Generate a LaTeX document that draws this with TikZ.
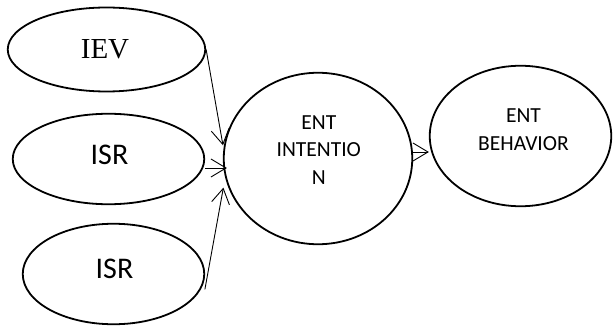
\documentclass[tikz,border=0pt]{standalone}
\usepackage{fontspec}
\setmainfont{Carlito}
\newfontfamily\timesfont{Liberation Serif}
\usetikzlibrary{shapes.geometric,arrows.meta}

\begin{document}
\begin{tikzpicture}[x=1pt,y=-1pt,
  bubble/.style={ellipse, draw, line width=1.8pt, inner sep=0pt},
  link/.style={line width=0.9pt, -{Straight Barb[length=15pt,width=18pt,line width=0.9pt]}},
  bigtext/.style={font=\fontsize{30}{36}\selectfont},
  smalltext/.style={font=\fontsize{21.5}{27.3}\selectfont, align=center}]
\useasboundingbox (0,0) rectangle (613,326);

% input constructs
\node[bubble, minimum width=197.5pt, minimum height=84pt,
      label={[font=\timesfont\fontsize{29}{34}\selectfont, xshift=-1.5pt]center:IEV}]
      (iev) at (106.5,49.5) {};
\node[bubble, minimum width=191.5pt, minimum height=90.5pt,
      label={[bigtext, xshift=1pt, yshift=4pt]center:ISR}]
      (isr1) at (108.5,159) {};
\node[bubble, minimum width=181.5pt, minimum height=100.5pt,
      label={[bigtext, xshift=1pt, yshift=5pt]center:ISR}]
      (isr2) at (113.5,274) {};

% intention and behaviour
\node[bubble, minimum width=188.5pt, minimum height=171.5pt,
      label={[smalltext, xshift=0.8pt, yshift=8.5pt]center:ENT\\INTENTIO\\N}]
      (int) at (318,158.5) {};
\node[bubble, minimum width=181.5pt, minimum height=140.5pt,
      label={[smalltext, xshift=3pt, yshift=6.3pt]center:ENT\\BEHAVIOR}]
      (beh) at (520.5,136) {};

% connectors
\draw[link] (iev.east) -- ([xshift=-1pt]int.172);
\coordinate (p1) at ([yshift=-9pt]isr1.east);
\draw[link, shorten >=-4pt] (p1) -- (p1 -| int.west);
\draw[link] ([xshift=4pt]isr2.-10) -- ([xshift=-5pt]int.198);
\coordinate (p2) at ([yshift=6.5pt]int.east);
\draw[link] (p2) -- (p2 -| beh.west);
\end{tikzpicture}
\end{document}
